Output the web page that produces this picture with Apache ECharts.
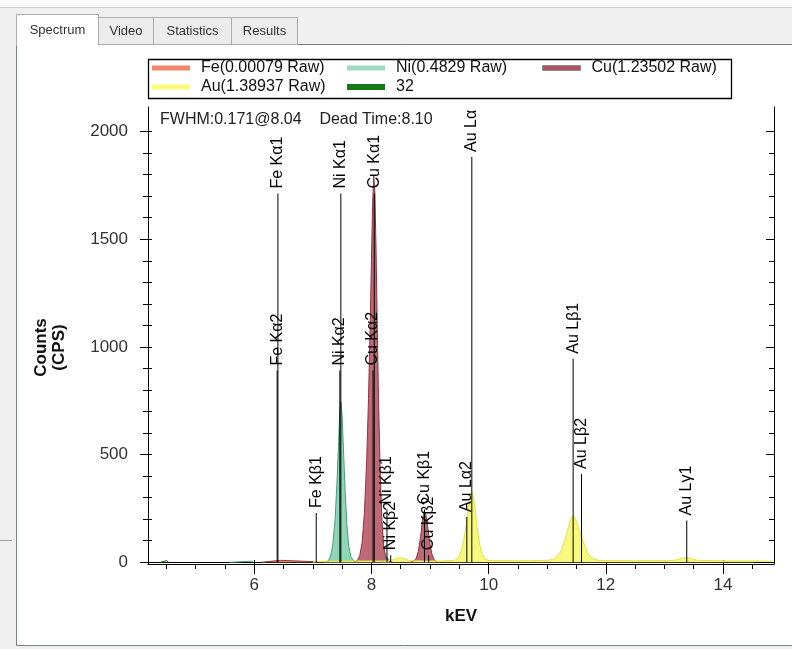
<!DOCTYPE html>
<html><head><meta charset="utf-8">
<script src="https://cdn.jsdelivr.net/npm/echarts@6/dist/echarts.min.js"></script>
<style>html,body{margin:0;padding:0;background:#f0f0f0;}#c{width:792px;height:649px;}</style>
</head><body><div id="c"></div>
<script>
// ---------- data ----------
const seriesNames = ['Fe(0.00079 Raw)', 'Ni(0.4829 Raw)', 'Cu(1.23502 Raw)', 'Au(1.38937 Raw)', '32'];
const feData = [[6.12,0],[6.15,8],[6.45,9],[6.48,3],[7.00,3],[7.04,0]];
const niData = [[5.58,0],[5.60,5],[5.96,5],[5.98,0],[6.5,null],
  [7.20,0],[7.26,6],[7.30,25],[7.34,80],[7.38,200],[7.41,360],[7.44,560],[7.46,700],[7.48,745],[7.50,680],[7.52,540],[7.55,340],[7.58,180],[7.61,80],[7.65,25],[7.70,6],[7.76,0],[8.0,null],
  [8.18,0],[8.22,10],[8.26,25],[8.30,12],[8.34,0]];
const cuData = [[7.70,0],[7.76,8],[7.80,30],[7.84,90],[7.88,230],[7.92,480],[7.95,760],[7.98,1120],[8.00,1400],[8.02,1660],[8.04,1795],[8.06,1710],[8.08,1430],[8.10,1090],[8.12,770],[8.15,420],[8.18,190],[8.21,70],[8.25,20],[8.30,4],[8.36,0],[8.5,null],
  [8.66,0],[8.72,6],[8.76,15],[8.80,50],[8.84,120],[8.87,195],[8.90,235],[8.93,220],[8.96,165],[8.99,100],[9.03,40],[9.07,12],[9.12,0]];
const auData = [[7.00,0],[7.05,4],[7.30,5],[7.60,6],[7.90,6],[8.20,6],[8.30,7],[8.40,14],[8.49,22],[8.58,14],[8.66,7],[8.90,6],[9.20,6],
  [9.40,8],[9.46,15],[9.50,30],[9.54,60],[9.58,110],[9.62,180],[9.66,260],[9.69,310],[9.72,325],[9.75,290],[9.78,220],[9.81,150],[9.85,80],[9.89,35],[9.94,15],[10.00,8],
  [10.30,7],[10.70,7],[11.00,8],[11.10,14],[11.18,30],[11.25,60],[11.31,110],[11.36,160],[11.40,200],[11.44,217],[11.48,205],[11.52,170],[11.56,140],[11.60,110],[11.65,70],[11.70,40],[11.76,20],[11.85,10],[11.95,8],
  [12.40,7],[12.90,7],[13.10,8],[13.20,11],[13.30,18],[13.38,22],[13.46,17],[13.55,10],[13.65,8],[14.10,6],[14.50,6],[14.85,5]];
const s32Data = [[4.40,0],[4.42,8],[4.51,8],[4.53,0]];

const markerNames    = ['Fe Kα1','Fe Kα2','Fe Kβ1','Ni Kα1','Ni Kα2','Ni Kβ1','Ni Kβ2','Cu Kα1','Cu Kα2','Cu Kβ1','Cu Kβ2','Au Lα','Au Lα2','Au Lβ1','Au Lβ2','Au Lγ1'];
const markerEnergies = [6.404, 6.391, 7.058, 7.478, 7.461, 8.265, 8.329, 8.048, 8.028, 8.905, 8.977, 9.713, 9.628, 11.442, 11.585, 13.381];
const markerHeights  = [1712, 890, 229, 1712, 890, 245, 33, 1712, 890, 245, 33, 1882, 210, 945, 410, 194];

const xTickLabels = [6, 8, 10, 12, 14];
const xMinorTicks = [4.5,5,5.5,6,6.5,7,7.5,8,8.5,9,9.5,10,10.5,11,11.5,12,12.5,13,13.5,14,14.5];
const yTickLabels = [0, 500, 1000, 1500, 2000];
const yMinorTicks = [0,100,200,300,400,500,600,700,800,900,1000,1100,1200,1300,1400,1500,1600,1700,1800,1900,2000];

// ---------- chart ----------
const X_MIN = 4.187, X_MAX = 14.87, Y_MIN = -8, Y_MAX = 2114;
const FF = 'Liberation Sans';
const chart = echarts.init(document.getElementById('c'), null, {renderer:'canvas'});

function xAx(extra){ return Object.assign({type:'value', min:X_MIN, max:X_MAX, position:'bottom',
  splitLine:{show:false}, axisLabel:{show:false}, axisTick:{show:false},
  axisLine:{show:false, onZero:false}}, extra); }
function yAx(extra){ return Object.assign({type:'value', min:Y_MIN, max:Y_MAX, position:'left',
  splitLine:{show:false}, axisLabel:{show:false}, axisTick:{show:false},
  axisLine:{show:false, onZero:false}}, extra); }
const blk = {color:'#000', width:1};

function area(name, data, fill, stroke){
  return {type:'line', name, data, xAxisIndex:0, yAxisIndex:0, symbol:'none', smooth:false,
    connectNulls:false, lineStyle:{color:stroke, width:1}, itemStyle:{color:fill},
    areaStyle:{color:fill, opacity:1}, z:2, silent:true};
}
function leg(name, left, top, color, h, extra){
  return {show:true, left, top, padding:0, itemWidth:38, itemHeight:h, selectedMode:false,
    data:[{name, icon:'rect', itemStyle:Object.assign({color, borderWidth:0}, extra||{})}],
    textStyle:{fontSize:16, fontFamily:FF, color:'#111', padding:[0,0,0,6]}};
}

const option = {
  animation:false,
  backgroundColor:'#f0f0f0',
  title:{text:'FWHM:0.171@8.04    Dead Time:8.10', left:160, top:112, padding:0,
    textStyle:{fontSize:16, fontWeight:'normal', fontFamily:FF, color:'#222'}},
  legend:[
    leg(seriesNames[0], 152, 60, '#f0876a', 5),
    leg(seriesNames[3], 152, 79, '#fbfb78', 5),
    leg(seriesNames[1], 347, 60, '#9edcc0', 5),
    leg(seriesNames[4], 347, 79, '#157a15', 6),
    leg(seriesNames[2], 542, 60, '#b35463', 5, {borderColor:'#8a8a8a', borderWidth:1})
  ],
  grid:{left:148, right:18, top:107, bottom:85, show:true, borderColor:'#000', borderWidth:1, backgroundColor:'#fff'},
  xAxis:[
    xAx({axisLine:{show:true, onZero:false, lineStyle:blk},
      axisTick:{show:true, customValues:xTickLabels, length:10, lineStyle:blk},
      axisLabel:{show:true, customValues:xTickLabels, margin:13, fontSize:17, fontFamily:FF, color:'#333', formatter:v=>String(v)},
      name:'kEV', nameLocation:'middle', nameGap:44,
      nameTextStyle:{fontWeight:'bold', fontSize:17, fontFamily:FF, color:'#111'}}),
    xAx({axisTick:{show:true, customValues:xMinorTicks, length:5, lineStyle:blk}}),
    xAx({axisLine:{show:true, onZero:true, onZeroAxisIndex:0, lineStyle:blk}}),
    xAx({axisTick:{show:true, inside:true, customValues:xTickLabels, length:4, lineStyle:blk}})
  ],
  yAxis:[
    yAx({axisLine:{show:true, onZero:false, lineStyle:blk},
      axisTick:{show:true, customValues:yTickLabels, length:8, lineStyle:blk},
      axisLabel:{show:true, customValues:yTickLabels, margin:20, fontSize:17, fontFamily:FF, color:'#333', formatter:v=>String(v)},
      name:'Counts\n(CPS)', nameLocation:'middle', nameRotate:90, nameGap:80,
      nameTextStyle:{fontWeight:'bold', fontSize:17, fontFamily:FF, color:'#111', lineHeight:18, align:'center', padding:[0,24,0,0]}}),
    yAx({axisTick:{show:true, customValues:yMinorTicks, length:5, lineStyle:blk}}),
    yAx({axisTick:{show:true, inside:true, customValues:yMinorTicks, length:4, lineStyle:blk}}),
    yAx({position:'right', axisLine:{show:true, onZero:false, lineStyle:blk},
      axisTick:{show:true, inside:true, customValues:yTickLabels, length:8, lineStyle:blk}}),
    yAx({position:'right', axisTick:{show:true, inside:true, customValues:yMinorTicks, length:5, lineStyle:blk}})
  ],
  graphic:[
    {type:'rect', z:0, silent:true, shape:{x:0,y:0,width:792,height:7}, style:{fill:'#fafafa'}},
    {type:'line', z:0, silent:true, shape:{x1:0,y1:7.5,x2:792,y2:7.5}, style:{stroke:'#d0d0d0', lineWidth:1}},
    {type:'rect', z:0, silent:true, shape:{x:16.5,y:44.5,width:800,height:601}, style:{fill:'#fff', stroke:'#7a7f88', lineWidth:1}},
    {type:'rect', z:0, silent:true, shape:{x:98.5,y:17.5,width:55,height:27}, style:{fill:'#ececec', stroke:'#adadad', lineWidth:1}},
    {type:'rect', z:0, silent:true, shape:{x:153.5,y:17.5,width:78,height:27}, style:{fill:'#ececec', stroke:'#adadad', lineWidth:1}},
    {type:'rect', z:0, silent:true, shape:{x:231.5,y:17.5,width:66,height:27}, style:{fill:'#ececec', stroke:'#adadad', lineWidth:1}},
    {type:'rect', z:0, silent:true, shape:{x:16.5,y:14.5,width:82,height:31}, style:{fill:'#fff', stroke:'#adadad', lineWidth:1}},
    {type:'rect', z:0, silent:true, shape:{x:17,y:43,width:81,height:3}, style:{fill:'#fff'}},
    {type:'text', z:1, silent:true, x:57.5, y:30, style:{text:'Spectrum', fontSize:13, fontFamily:FF, fill:'#333', align:'center', verticalAlign:'middle'}},
    {type:'text', z:1, silent:true, x:126, y:31, style:{text:'Video', fontSize:13, fontFamily:FF, fill:'#333', align:'center', verticalAlign:'middle'}},
    {type:'text', z:1, silent:true, x:192.5, y:31, style:{text:'Statistics', fontSize:13, fontFamily:FF, fill:'#333', align:'center', verticalAlign:'middle'}},
    {type:'text', z:1, silent:true, x:264.5, y:31, style:{text:'Results', fontSize:13, fontFamily:FF, fill:'#333', align:'center', verticalAlign:'middle'}},
    {type:'line', z:0, silent:true, shape:{x1:0,y1:540.5,x2:12,y2:540.5}, style:{stroke:'#a0a0a0', lineWidth:1}},
    {type:'rect', z:1, silent:true, shape:{x:148.5,y:59.5,width:583,height:39}, style:{fill:'none', stroke:'#000', lineWidth:1.3}}
  ],
  series:[
    area(seriesNames[1], niData, '#8fd6b6', '#4c9c7a'),
    area(seriesNames[2], cuData, '#be6a76', '#93323f'),
    area(seriesNames[0], feData, '#f0876a', '#8a3a2a'),
    area(seriesNames[3], auData, '#f8f87c', '#e2e24a'),
    area(seriesNames[4], s32Data, '#157a15', '#157a15'),
    {type:'bar', name:'markers', xAxisIndex:0, yAxisIndex:0, barWidth:1, z:5, silent:true,
      itemStyle:{color:'#000'},
      label:{show:true, position:'top', rotate:90, align:'left', verticalAlign:'middle', distance:5,
        fontSize:16, fontFamily:FF, color:'#000', formatter:p=>p.name},
      data: markerNames.map((n,i)=>({name:n, value:[markerEnergies[i], markerHeights[i]]}))}
  ]
};
chart.setOption(option);
</script></body></html>
